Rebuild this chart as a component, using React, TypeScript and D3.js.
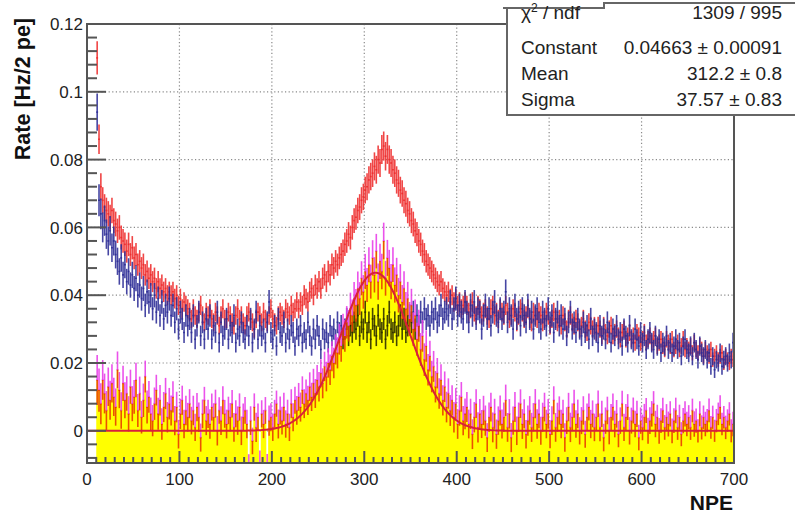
import * as d3 from 'd3';

// histogram binning: 2 pe per bin, first filled bin starts at 10 pe
const binStart = 10;
const binWidth = 2;

// rates in units of 1e-4 Hz / 2 pe, read bin by bin from the plot
const redRate = [
  1100, 860, 720, 680, 660, 650, 640, 630, 650, 620,
  610, 590, 600, 570, 560, 550, 530, 550, 520, 540,
  510, 520, 490, 500, 480, 490, 460, 470, 450, 460,
  440, 450, 420, 440, 420, 430, 410, 420, 400, 410,
  400, 410, 390, 400, 370, 390, 360, 380, 370, 360,
  350, 330, 360, 340, 330, 350, 370, 340, 320, 350,
  340, 360, 330, 320, 350, 340, 310, 340, 360, 330,
  330, 350, 340, 320, 310, 340, 360, 330, 340, 320,
  310, 340, 350, 330, 320, 300, 330, 350, 340, 320,
  350, 330, 320, 340, 360, 330, 320, 310, 340, 350,
  340, 330, 360, 350, 340, 370, 350, 360, 380, 360,
  380, 370, 400, 390, 380, 410, 420, 400, 430, 420,
  440, 420, 450, 460, 440, 470, 460, 490, 480, 500,
  490, 510, 520, 530, 550, 560, 580, 570, 600, 620,
  630, 650, 660, 680, 690, 710, 720, 740, 750, 760,
  780, 770, 800, 790, 830, 840, 810, 830, 800, 790,
  770, 760, 740, 730, 710, 700, 680, 670, 650, 640,
  620, 610, 590, 580, 560, 550, 530, 520, 500, 490,
  480, 470, 460, 450, 440, 430, 440, 420, 410, 400,
  410, 390, 400, 380, 390, 370, 380, 360, 370, 380,
  370, 350, 360, 380, 350, 340, 370, 360, 340, 350,
  360, 340, 330, 360, 370, 340, 350, 330, 360, 350,
  340, 370, 350, 330, 340, 360, 350, 320, 340, 360,
  350, 330, 340, 360, 330, 320, 350, 340, 330, 350,
  340, 320, 330, 350, 340, 310, 330, 350, 330, 320,
  330, 310, 340, 320, 300, 330, 340, 320, 310, 330,
  320, 300, 310, 330, 300, 290, 320, 310, 300, 310,
  290, 310, 300, 280, 310, 290, 280, 300, 310, 280,
  290, 300, 280, 270, 290, 300, 270, 280, 290, 270,
  280, 260, 290, 280, 260, 270, 290, 260, 270, 280,
  260, 270, 280, 250, 260, 270, 250, 240, 270, 260,
  250, 270, 240, 250, 260, 240, 250, 270, 240, 250,
  240, 250, 230, 260, 240, 230, 250, 240, 220, 240,
  230, 220, 240, 210, 220, 230, 210, 220, 230, 200,
  220, 210, 200, 220, 210,
];

const blueRate = [
  940, 680, 640, 600, 620, 580, 560, 590, 540, 560,
  520, 500, 470, 510, 460, 490, 440, 470, 430, 460,
  420, 450, 400, 430, 390, 420, 370, 410, 380, 400,
  360, 400, 350, 390, 340, 380, 330, 370, 350, 390,
  340, 370, 320, 360, 300, 350, 330, 290, 340, 310,
  330, 290, 340, 270, 310, 350, 280, 320, 270, 330,
  300, 340, 270, 310, 290, 350, 260, 320, 280, 300,
  330, 270, 310, 290, 340, 260, 300, 280, 320, 290,
  270, 310, 280, 330, 260, 300, 350, 270, 310, 280,
  300, 260, 320, 380, 290, 270, 310, 250, 330, 290,
  280, 320, 260, 300, 270, 310, 290, 250, 300, 280,
  310, 260, 290, 270, 320, 280, 250, 300, 270, 310,
  280, 240, 300, 270, 290, 260, 310, 280, 300, 270,
  320, 290, 310, 270, 300, 330, 280, 310, 290, 320,
  300, 340, 280, 320, 300, 350, 290, 320, 270, 330,
  310, 280, 340, 300, 290, 330, 270, 310, 350, 300,
  290, 320, 280, 310, 340, 300, 330, 290, 310, 340,
  320, 350, 300, 340, 310, 350, 320, 360, 330, 340,
  310, 350, 330, 360, 320, 340, 370, 330, 350, 360,
  340, 380, 330, 360, 390, 340, 370, 350, 330, 380,
  350, 320, 370, 340, 380, 330, 360, 350, 300, 340,
  370, 330, 360, 310, 350, 380, 340, 320, 360, 330,
  350, 410, 320, 360, 340, 300, 370, 330, 350, 310,
  360, 340, 320, 370, 330, 350, 300, 340, 360, 320,
  300, 350, 330, 310, 360, 320, 340, 290, 330, 350,
  310, 340, 300, 330, 280, 320, 350, 300, 320, 290,
  330, 300, 280, 320, 290, 310, 270, 330, 280, 300,
  290, 260, 310, 280, 300, 270, 320, 290, 260, 300,
  280, 310, 270, 290, 250, 300, 280, 260, 310, 270,
  260, 300, 270, 250, 290, 260, 280, 240, 270, 290,
  260, 240, 280, 250, 270, 230, 260, 250, 280, 240,
  260, 230, 250, 270, 240, 260, 220, 250, 270, 240,
  230, 250, 220, 260, 240, 210, 250, 230, 220, 240,
  210, 230, 190, 220, 180, 210, 200, 230, 190, 210,
  220, 200, 230, 210, 260,
];

const signalRate = [
  150, 120, 80, 150, 110, 60, 130, 90, 140, 100,
  70, 180, 120, 60, 140, 90, 110, 50, 130, 80,
  100, 150, 60, 110, 40, 90, 160, 70, 100, 50,
  30, 80, 120, 50, 90, 20, 70, 110, 40, 80,
  60, 100, 30, 70, -10, 50, 90, 20, 60, 40,
  80, 30, 60, 10, 70, 40, -20, 50, 90, 30,
  50, 20, 70, 40, 80, 0, 60, 30, 90, 50,
  20, 60, 40, 80, 10, 50, 30, 70, 0, 40,
  60, 20, -110, 30, -30, 70, 10, 40, -100, 50,
  20, 60, -110, 30, 40, 10, 50, 80, 20, 60,
  30, 70, 20, 50, 10, 80, 40, 90, 60, 100,
  70, 120, 80, 110, 90, 130, 100, 140, 110, 150,
  130, 170, 140, 190, 160, 200, 180, 220, 200, 240,
  230, 270, 250, 300, 280, 320, 310, 360, 340, 390,
  370, 420, 390, 450, 410, 470, 430, 490, 440, 510,
  460, 530, 440, 500, 470, 560, 450, 510, 480, 440,
  490, 430, 460, 400, 440, 380, 420, 360, 390, 330,
  370, 300, 340, 270, 310, 240, 280, 210, 250, 180,
  220, 160, 190, 130, 170, 110, 150, 90, 130, 70,
  110, 60, 90, 40, 80, 20, 60, 100, 30, 50,
  70, 20, 50, -10, 40, 80, 10, 50, 20, 60,
  30, -20, 40, 70, 10, 50, -10, 30, 60, 20,
  40, 90, 10, 50, -20, 30, 70, 0, 40, 80,
  20, 50, -10, 30, 60, 10, 40, 80, 20, 50,
  0, 40, 70, 20, 50, -10, 30, 90, 10, 40,
  60, 20, 50, -20, 30, 70, 10, 40, 80, 20,
  50, 0, 30, 60, -10, 40, 70, 20, 50, 10,
  40, 80, 10, 50, -20, 30, 60, 0, 40, 70,
  20, 50, -10, 30, 80, 10, 40, 70, 0, 30,
  60, 20, 50, -20, 30, 10, 40, 60, 0, 30,
  50, 80, 20, 40, 0, 30, 60, 10, 40, 20,
  50, 0, 30, 60, 10, 40, -10, 30, 50, 20,
  40, 10, 60, 20, 30, 0, 50, 10, 40, 20,
  30, 60, 10, 40, 0, 30, 50, 70, 20, 40,
  10, 30, 50, 0, 20,
];

// gaussian fit shown in the stats box
const fitConstant = 0.04663;
const fitMean = 312.2;
const fitSigma = 37.57;

const statsRows = [
  ['Constant', '0.04663 \u00b1 0.00091'],
  ['Mean', '312.2 \u00b1 0.8'],
  ['Sigma', '37.57 \u00b1 0.83'],
];
const chiLabel = '1309 / 995';

const xTickValues = [0, 100, 200, 300, 400, 500, 600, 700];
const yTickValues = [0, 0.02, 0.04, 0.06, 0.08, 0.1, 0.12];

const W = 795;
const H = 514;
const left = 87;
const right = 734;
const top = 24;
const bottom = 463;
const yMin = -0.0095;
const yMax = 0.12;

const RED = '#ee2b2b';
const BLUE = '#2c2c96';
const MAGENTA = '#e83ae8';
const FONT = 'Liberation Sans, Arial, Helvetica, sans-serif';

const x = d3.scaleLinear([0, 700], [left, right]);
const y = d3.scaleLinear([yMin, yMax], [bottom, top]);

const toRate = (n: number) => n * 1e-4;
const redErr = (v: number) => 0.0148 * Math.sqrt(Math.max(v, 0));
const blueErr = (v: number) => 0.018 * Math.sqrt(Math.max(v, 0));

const ErrorBars = ({ values, errs, color }: { values: number[]; errs: number[]; color: string }) => (
  <g stroke={color} strokeWidth={1.6} strokeOpacity={0.88}>
    {values.map((v, i) => {
      const x0 = binStart + i * binWidth;
      const xc = x(x0 + binWidth / 2);
      return (
        <g key={i}>
          <line x1={xc} x2={xc} y1={y(v - errs[i])} y2={y(v + errs[i])} />
          <line x1={x(x0)} x2={x(x0 + binWidth)} y1={y(v)} y2={y(v)} />
        </g>
      );
    })}
  </g>
);

export default function App() {
  const red = redRate.map(toRate);
  const blue = blueRate.map(toRate);
  const signal = signalRate.map(toRate);
  const rErr = red.map(redErr);
  const bErr = blue.map(blueErr);
  const sErr = signal.map((_, i) => Math.hypot(rErr[i], bErr[i]));

  const steps: [number, number][] = signal.map((v, i) => [binStart + i * binWidth, v]);
  steps.push([binStart + signal.length * binWidth, signal[signal.length - 1]]);
  const fillPath = d3
    .area<[number, number]>()
    .x((d) => x(d[0]))
    .y0(y(yMin))
    .y1((d) => y(Math.max(d[1], yMin)))
    .curve(d3.curveStepAfter)(steps);

  const fitPath = d3
    .line<number>()
    .x((d) => x(d))
    .y((d) => y(fitConstant * Math.exp(-0.5 * ((d - fitMean) / fitSigma) ** 2)))(d3.range(0, 700.5, 1));

  const yMinor = d3.range(-2, 31).map((k) => ({ v: k * 0.004, major: k % 5 === 0 }));
  const xMinor = d3.range(0, 71).map((k) => ({ v: k * 10, major: k % 10 === 0 }));

  return (
    <svg width={W} height={H} style={{ position: 'absolute', left: 0, top: 0, background: '#fff' }} fontFamily={FONT}>
      <defs>
        <clipPath id="plot">
          <rect x={left} y={top} width={right - left} height={bottom - top} />
        </clipPath>
      </defs>
      <rect width={W} height={H} fill="#fff" />

      {/* grid */}
      <g stroke="#8a8a8a" strokeWidth={1.2} strokeDasharray="1.2,2.4">
        {xTickValues.slice(1, -1).map((t) => (
          <line key={t} x1={x(t)} x2={x(t)} y1={top} y2={bottom} />
        ))}
        {yTickValues.slice(0, -1).map((t) => (
          <line key={t} x1={left} x2={right} y1={y(t)} y2={y(t)} />
        ))}
      </g>

      <g clipPath="url(#plot)">
        <ErrorBars values={red} errs={rErr} color={RED} />
        <ErrorBars values={blue} errs={bErr} color={BLUE} />
        <ErrorBars values={signal} errs={sErr} color={MAGENTA} />
        <path d={fillPath ?? ''} fill="#ffff00" style={{ mixBlendMode: 'multiply' }} />
        <path d={fitPath ?? ''} fill="none" stroke="#d8203c" strokeWidth={2} />
      </g>

      {/* frame and ticks */}
      <g stroke="#555" strokeWidth={2} fill="none">
        <rect x={left} y={top} width={right - left} height={bottom - top} />
        {yMinor.map((t) => (
          <line key={t.v} x1={left} x2={left + (t.major ? 19 : 10)} y1={y(t.v)} y2={y(t.v)} />
        ))}
        {xMinor.map((t) => (
          <line key={t.v} x1={x(t.v)} x2={x(t.v)} y1={bottom} y2={bottom - (t.major ? 12 : 6)} />
        ))}
      </g>

      <g fontSize={17} fill="#222">
        {yTickValues.map((t) => (
          <text key={t} x={83} y={y(t)} dy="0.36em" textAnchor="end">
            {t === 0 ? '0' : String(t)}
          </text>
        ))}
        {xTickValues.map((t) => (
          <text key={t} x={x(t)} y={485} textAnchor="middle">
            {t}
          </text>
        ))}
      </g>

      <text transform="translate(30,18) rotate(-90)" textAnchor="end" fontSize={21.5} fontWeight="bold" fill="#111">
        Rate [Hz/2 pe]
      </text>
      <text x={733} y={510} textAnchor="end" fontSize={21} fontWeight="bold" fill="#111">
        NPE
      </text>

      {/* stats box */}
      <g>
        <rect x={507} y={3} width={W - 507} height={112} fill="#fff" />
        <g stroke="#666" strokeWidth={2} fill="none">
          <polyline points={`507,8 507,115 ${W},115`} />
          <polyline points={`503,8 604,8 604,3 ${W},3`} />
        </g>
        <g fontSize={19} fill="#222">
          <text x={521} y={19}>
            {'\u03c7'}
            <tspan fontSize={12} dy={-7}>
              2
            </tspan>
            <tspan dy={7}> / ndf</tspan>
          </text>
          <text x={782} y={19} textAnchor="end">
            {chiLabel}
          </text>
          {statsRows.map(([k, v], i) => (
            <g key={k}>
              <text x={521} y={54 + i * 26}>
                {k}
              </text>
              <text x={782} y={54 + i * 26} textAnchor="end">
                {v}
              </text>
            </g>
          ))}
        </g>
      </g>
    </svg>
  );
}
